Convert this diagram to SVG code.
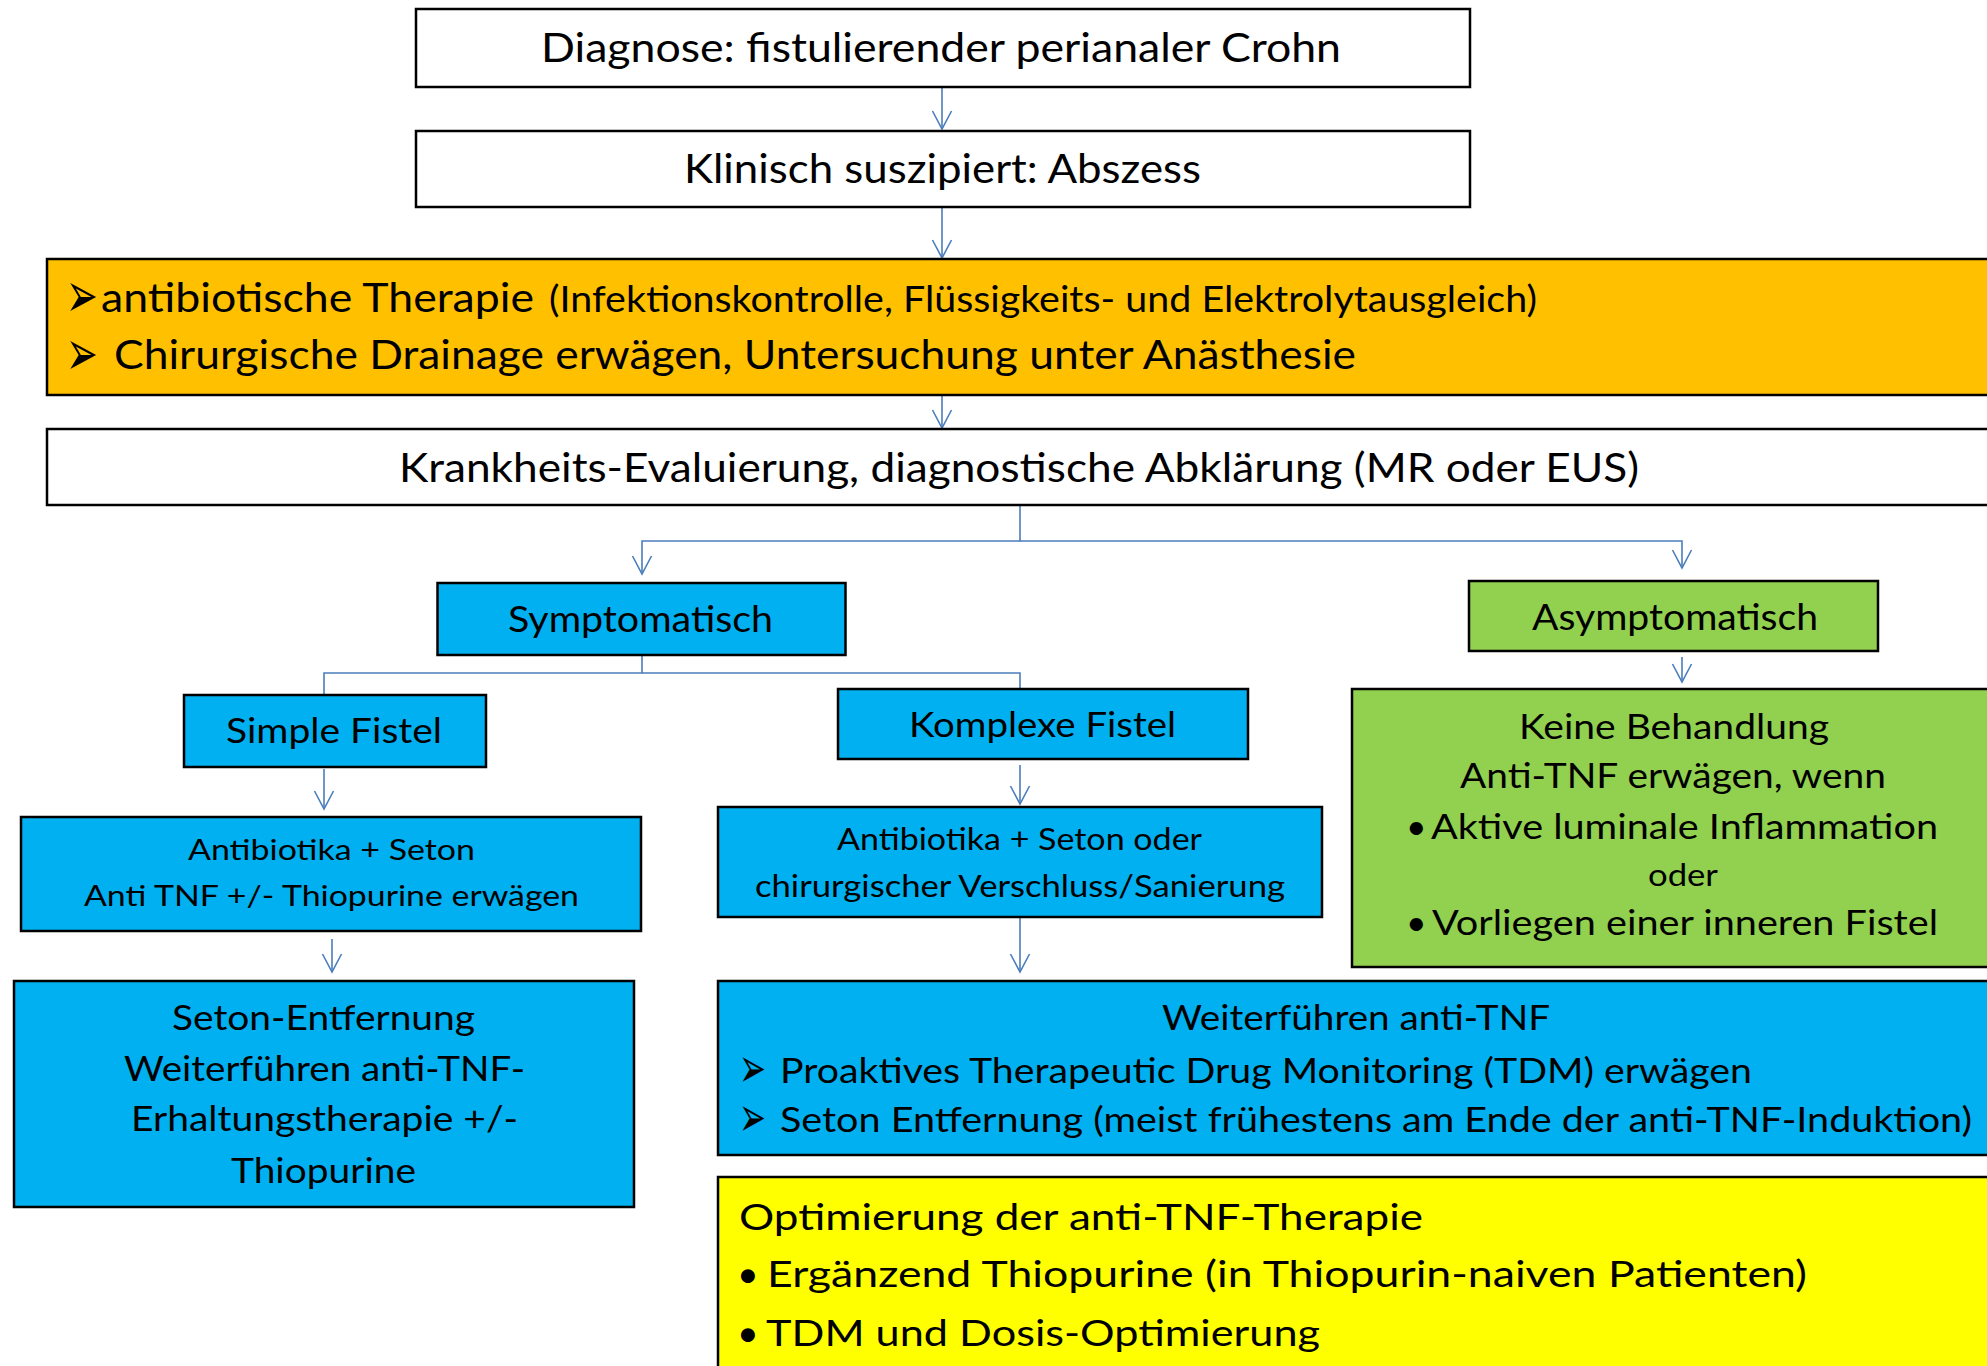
<svg xmlns="http://www.w3.org/2000/svg" width="1987" height="1366" viewBox="0 0 1987 1366">
<style>
.box{stroke:#000;stroke-width:2.5}
.w{fill:#fff}.o{fill:#FFC000}.b{fill:#00B0F0}.g{fill:#92D050}.y{fill:#FFFF00}
text{font-family:Lato,"Open Sans","Liberation Sans",sans-serif;fill:#000}
.sym{font-family:"DejaVu Sans",sans-serif}
.con{fill:none;stroke:#4A7EBB;stroke-width:1.6}
</style>
<defs>
<marker id="ah" markerUnits="userSpaceOnUse" markerWidth="22" markerHeight="22" viewBox="-20 -11 22 22" refX="0" refY="0" orient="auto">
<path d="M-18,-9.5 L0,0 L-18,9.5" fill="none" stroke="#4A7EBB" stroke-width="1.6"/>
</marker>
</defs>
<g id="connectors">
<path class="con" d="M942,87 V129" marker-end="url(#ah)"/>
<path class="con" d="M942,207 V258" marker-end="url(#ah)"/>
<path class="con" d="M942,395 V428" marker-end="url(#ah)"/>
<path class="con" d="M1020,505 V541 H642 V574" marker-end="url(#ah)"/>
<path class="con" d="M1020,541 H1682 V568" marker-end="url(#ah)"/>
<path class="con" d="M642,655 V673 H324 V695"/>
<path class="con" d="M642,673 H1020 V689"/>
<path class="con" d="M324,769 V809" marker-end="url(#ah)"/>
<path class="con" d="M332,939 V972" marker-end="url(#ah)"/>
<path class="con" d="M1020,765 V804" marker-end="url(#ah)"/>
<path class="con" d="M1020,917 V972" marker-end="url(#ah)"/>
<path class="con" d="M1682,657 V682" marker-end="url(#ah)"/>
</g>
<g id="n-diagnose">
<rect class="box w" x="416" y="9" width="1054" height="78"/>
<text x="541" y="62" font-size="40" textLength="800" lengthAdjust="spacingAndGlyphs">Diagnose: fistulierender perianaler Crohn</text>
</g>
<g id="n-klinisch">
<rect class="box w" x="416" y="131" width="1054" height="76"/>
<text x="684" y="183" font-size="40" textLength="517" lengthAdjust="spacingAndGlyphs">Klinisch suszipiert: Abszess</text>
</g>
<g id="n-therapie">
<rect class="box o" x="47" y="259" width="1960" height="136"/>
<text class="sym" x="66" y="317" font-size="64" textLength="32" lengthAdjust="spacingAndGlyphs">➢</text>
<text x="101" y="312" font-size="40" textLength="433" lengthAdjust="spacingAndGlyphs">antibiotische Therapie</text>
<text x="549" y="312" font-size="36" textLength="988" lengthAdjust="spacingAndGlyphs">(Infektionskontrolle, Flüssigkeits- und Elektrolytausgleich)</text>
<text class="sym" x="66" y="375" font-size="64" textLength="32" lengthAdjust="spacingAndGlyphs">➢</text>
<text x="114" y="369" font-size="40" textLength="1242" lengthAdjust="spacingAndGlyphs">Chirurgische Drainage erwägen, Untersuchung unter Anästhesie</text>
</g>
<g id="n-evaluierung">
<rect class="box w" x="47" y="429" width="1960" height="76"/>
<text x="399" y="482" font-size="40" textLength="1240" lengthAdjust="spacingAndGlyphs">Krankheits-Evaluierung, diagnostische Abklärung (MR oder EUS)</text>
</g>
<g id="n-symptomatisch">
<rect class="box b" x="437.5" y="583" width="408" height="72"/>
<text x="508" y="632" font-size="36" textLength="265" lengthAdjust="spacingAndGlyphs">Symptomatisch</text>
</g>
<g id="n-asymptomatisch">
<rect class="box g" x="1469" y="581" width="409" height="70"/>
<text x="1532" y="630" font-size="36" textLength="286" lengthAdjust="spacingAndGlyphs">Asymptomatisch</text>
</g>
<g id="n-simple">
<rect class="box b" x="184" y="695" width="302" height="72"/>
<text x="226" y="743" font-size="35.5" textLength="216" lengthAdjust="spacingAndGlyphs">Simple Fistel</text>
</g>
<g id="n-komplexe">
<rect class="box b" x="838" y="689" width="410" height="70"/>
<text x="909" y="737" font-size="35.5" textLength="267" lengthAdjust="spacingAndGlyphs">Komplexe Fistel</text>
</g>
<g id="n-simple-therapie">
<rect class="box b" x="21" y="817" width="620" height="114"/>
<text x="188" y="860" font-size="29" textLength="287" lengthAdjust="spacingAndGlyphs">Antibiotika + Seton</text>
<text x="84" y="906" font-size="29" textLength="495" lengthAdjust="spacingAndGlyphs">Anti TNF +/- Thiopurine erwägen</text>
</g>
<g id="n-komplexe-therapie">
<rect class="box b" x="718" y="807" width="604" height="110"/>
<text x="837" y="850" font-size="30" textLength="365" lengthAdjust="spacingAndGlyphs">Antibiotika + Seton oder</text>
<text x="755" y="897" font-size="30" textLength="530" lengthAdjust="spacingAndGlyphs">chirurgischer Verschluss/Sanierung</text>
</g>
<g id="n-keine-behandlung">
<rect class="box g" x="1352" y="689" width="700" height="278"/>
<text x="1519" y="739" font-size="35.5" textLength="310" lengthAdjust="spacingAndGlyphs">Keine Behandlung</text>
<text x="1460" y="788" font-size="35.5" textLength="426" lengthAdjust="spacingAndGlyphs">Anti-TNF erwägen, wenn</text>
<text x="1406" y="839" font-size="35.5">•</text>
<text x="1431" y="839" font-size="35.5" textLength="507" lengthAdjust="spacingAndGlyphs">Aktive luminale Inflammation</text>
<text x="1648" y="886" font-size="30" textLength="70" lengthAdjust="spacingAndGlyphs">oder</text>
<text x="1406" y="935" font-size="35.5">•</text>
<text x="1432" y="935" font-size="35.5" textLength="506" lengthAdjust="spacingAndGlyphs">Vorliegen einer inneren Fistel</text>
</g>
<g id="n-seton-entfernung">
<rect class="box b" x="14" y="981" width="620" height="226"/>
<text x="172" y="1030" font-size="35.5" textLength="303" lengthAdjust="spacingAndGlyphs">Seton-Entfernung</text>
<text x="124" y="1081" font-size="35.5" textLength="401" lengthAdjust="spacingAndGlyphs">Weiterführen anti-TNF-</text>
<text x="131" y="1131" font-size="35.5" textLength="387" lengthAdjust="spacingAndGlyphs">Erhaltungstherapie +/-</text>
<text x="231" y="1183" font-size="35.5" textLength="185" lengthAdjust="spacingAndGlyphs">Thiopurine</text>
</g>
<g id="n-weiterfuehren">
<rect class="box b" x="718" y="981" width="1300" height="174"/>
<text x="1162" y="1030" font-size="35" textLength="388" lengthAdjust="spacingAndGlyphs">Weiterführen anti-TNF</text>
<text class="sym" x="739" y="1087" font-size="56" textLength="27" lengthAdjust="spacingAndGlyphs">➢</text>
<text x="780" y="1083" font-size="35" textLength="972" lengthAdjust="spacingAndGlyphs">Proaktives Therapeutic Drug Monitoring (TDM) erwägen</text>
<text class="sym" x="739" y="1136" font-size="56" textLength="27" lengthAdjust="spacingAndGlyphs">➢</text>
<text x="780" y="1132" font-size="35" textLength="1192" lengthAdjust="spacingAndGlyphs">Seton Entfernung (meist frühestens am Ende der anti-TNF-Induktion)</text>
</g>
<g id="n-optimierung">
<rect class="box y" x="718" y="1177" width="1300" height="220"/>
<text x="739" y="1230" font-size="37.5" textLength="684" lengthAdjust="spacingAndGlyphs">Optimierung der anti-TNF-Therapie</text>
<text x="737" y="1287" font-size="37.5">•</text>
<text x="767" y="1287" font-size="37.5" textLength="1040" lengthAdjust="spacingAndGlyphs">Ergänzend Thiopurine (in Thiopurin-naiven Patienten)</text>
<text x="737" y="1346" font-size="37.5">•</text>
<text x="766" y="1346" font-size="37.5" textLength="554" lengthAdjust="spacingAndGlyphs">TDM und Dosis-Optimierung</text>
</g>
</svg>
